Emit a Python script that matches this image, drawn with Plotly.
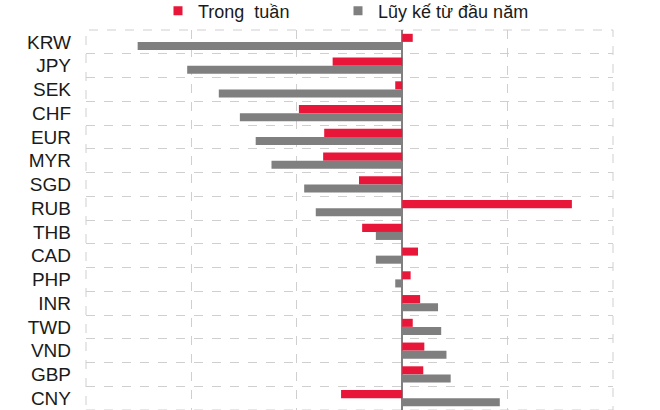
import plotly.graph_objects as go

categories = ["KRW", "JPY", "SEK", "CHF", "EUR", "MYR", "SGD", "RUB", "THB",
              "CAD", "PHP", "INR", "TWD", "VND", "GBP", "CNY"]
weekly = [0.5, -3.3, -0.33, -4.9, -3.7, -3.75, -2.05, 8.05, -1.9,
          0.75, 0.4, 0.85, 0.5, 1.05, 1.0, -2.9]
ytd = [-12.55, -10.2, -8.7, -7.7, -6.95, -6.2, -4.65, -4.1, -1.25,
       -1.25, -0.33, 1.7, 1.85, 2.1, 2.3, 4.63]
series_names = ["Trong  tuần", "Lũy kế từ đầu năm"]
colors = ["#E8173A", "#7F7F7F"]
legend_ids = ["legend", "legend2"]

fig = go.Figure()
for name, vals, col in zip(series_names, [weekly, ytd], colors):
    fig.add_trace(go.Bar(y=categories, x=vals, orientation="h", name=name,
                         marker=dict(color=col, line=dict(width=0)),
                         showlegend=False))
# legend entries with small square symbols
for name, col, lg in zip(series_names, colors, legend_ids):
    fig.add_trace(go.Scatter(x=[None], y=[None], mode="markers", name=name,
                             legend=lg,
                             marker=dict(symbol="square", size=9, color=col)))

font = "Liberation Sans, Arial, sans-serif"
leg_common = dict(orientation="h", xanchor="left", xref="container",
                  y=1.05, yanchor="middle", yref="paper",
                  font=dict(size=18, color="#1a1a1a"), itemwidth=30,
                  bgcolor="rgba(0,0,0,0)")
fig.update_layout(
    width=660, height=410,
    margin=dict(l=86, r=47, t=30, b=0, autoexpand=False),
    paper_bgcolor="white", plot_bgcolor="white",
    barmode="group", bargap=0.32, bargroupgap=0,
    font=dict(family=font, size=19, color="#1a1a1a"),
    showlegend=True,
    legend=dict(x=158 / 660, **leg_common),
    legend2=dict(x=338 / 660, **leg_common),
    xaxis=dict(range=[-15, 10], dtick=5, showticklabels=False, ticks="",
               showgrid=True, gridcolor="#cfcfcf", griddash="dash", gridwidth=1,
               zeroline=True, zerolinecolor="#808080", zerolinewidth=1.5,
               showline=False, fixedrange=True),
    yaxis=dict(categoryorder="array", categoryarray=categories, autorange="reversed",
               tickson="boundaries", ticks="", showgrid=True, gridcolor="#cfcfcf",
               griddash="dash", gridwidth=1, showline=False,
               tickfont=dict(size=19, color="#1a1a1a"), ticklabelstandoff=14),
    shapes=[dict(type="rect", xref="paper", yref="paper", x0=0, x1=1, y0=0, y1=1,
                 line=dict(color="#cfcfcf", width=1, dash="dash"), layer="below")],
)
fig.write_html("out.html", config={"displayModeBar": False},
               post_script="document.body.style.margin='0';document.body.style.overflow='hidden';")
